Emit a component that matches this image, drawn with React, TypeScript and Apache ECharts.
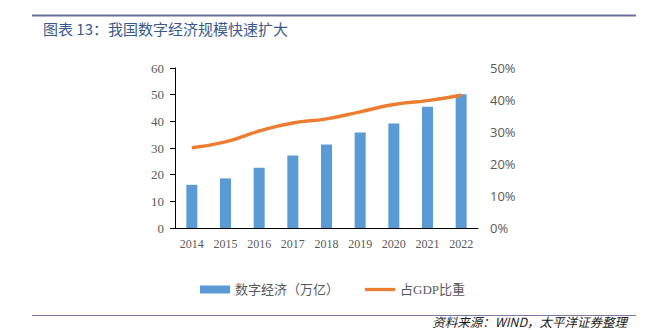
import React, { useEffect, useRef } from "react";
import * as echarts from "echarts";

const years = ["2014", "2015", "2016", "2017", "2018", "2019", "2020", "2021", "2022"];
const digitalEconomy = [16.2, 18.6, 22.6, 27.2, 31.3, 35.8, 39.2, 45.5, 50.2];
const gdpShare = [0.251, 0.269, 0.303, 0.328, 0.341, 0.363, 0.386, 0.398, 0.415];
const seriesNames = ["数字经济（万亿）", "占GDP比重"];
const titleText = "图表 13：我国数字经济规模快速扩大";
const sourceText = "资料来源：WIND，太平洋证券整理";

export default function App() {
  const ref = useRef<HTMLDivElement>(null);
  useEffect(() => {
    if (!ref.current) return;
    const chart = echarts.init(ref.current, null, { renderer: "svg" });
    const serif = "'Liberation Serif', 'Noto Sans CJK SC', serif";
    chart.setOption({
      animation: false,
      backgroundColor: "#ffffff",
      grid: { left: 175, right: 174, top: 68, bottom: 102 },
      legend: {
        left: 195,
        top: 278,
        itemGap: 26,
        itemWidth: 30,
        itemHeight: 8,
        textStyle: { fontFamily: serif, fontSize: 13, color: "#595959" },
        data: [
          { name: seriesNames[0], icon: "rect" },
          { name: seriesNames[1], icon: "path://M0,0H32V3.5H0Z" },
        ],
      },
      xAxis: {
        type: "category",
        data: years,
        axisLine: { show: true, lineStyle: { color: "#000", width: 1 } },
        axisTick: { show: false },
        axisLabel: { interval: 0, fontFamily: serif, fontSize: 12, color: "#595959", margin: 10 },
      },
      yAxis: [
        {
          type: "value",
          min: 0,
          max: 60,
          interval: 10,
          axisLine: { show: true, lineStyle: { color: "#000", width: 1 } },
          axisTick: { show: true, length: 5, lineStyle: { color: "#000" } },
          splitLine: { show: false },
          axisLabel: { fontFamily: serif, fontSize: 13, color: "#595959", margin: 11 },
        },
        {
          type: "value",
          min: 0,
          max: 0.5,
          interval: 0.1,
          axisLine: { show: false },
          axisTick: { show: false },
          splitLine: { show: false },
          axisLabel: {
            fontFamily: "'Open Sans', 'Liberation Sans', sans-serif",
            fontSize: 13,
            color: "#595959",
            margin: 12,
            formatter: (v: number) => Math.round(v * 100) + "%",
          },
        },
      ],
      series: [
        {
          name: seriesNames[0],
          type: "bar",
          data: digitalEconomy,
          barWidth: 11,
          itemStyle: { color: "#5B9BD5" },
        },
        {
          name: seriesNames[1],
          type: "line",
          yAxisIndex: 1,
          data: gdpShare,
          smooth: true,
          symbol: "none",
          lineStyle: { color: "#ED7D31", width: 3.5 },
          itemStyle: { color: "#ED7D31" },
        },
      ],
      graphic: [
        {
          type: "line",
          shape: { x1: 32, y1: 15.5, x2: 636, y2: 15.5 },
          style: { stroke: "#6E6E9E", lineWidth: 2 },
        },
        {
          type: "text",
          x: 43,
          y: 28,
          style: {
            text: titleText,
            fontFamily: "'Noto Sans CJK SC', sans-serif",
            fontSize: 15,
            fill: "#3A5A8C",
            verticalAlign: "middle",
          },
        },
        {
          type: "line",
          shape: { x1: 32, y1: 315.5, x2: 636, y2: 315.5 },
          style: { stroke: "#7A7AA2", lineWidth: 1 },
        },
        {
          type: "text",
          x: 627,
          y: 321,
          style: {
            text: sourceText,
            fontFamily: "'Noto Sans CJK SC', sans-serif",
            fontSize: 12.5,
            fontStyle: "italic",
            fill: "#222",
            align: "right",
            verticalAlign: "middle",
          },
        },
      ],
    });
    return () => chart.dispose();
  }, []);
  return (
    <div
      ref={ref}
      style={{ position: "fixed", left: 0, top: 0, width: 652, height: 330 }}
    />
  );
}
